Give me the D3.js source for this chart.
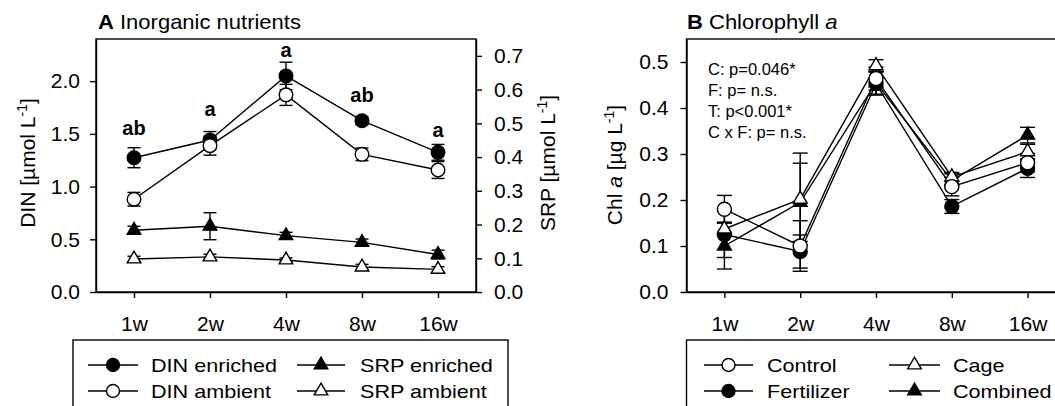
<!DOCTYPE html>
<html>
<head>
<meta charset="utf-8">
<script src="https://cdn.jsdelivr.net/npm/d3@7"></script>
<style>
body { margin: 0; background: #fff; }
svg text { font-family: "Liberation Sans", Arial, sans-serif; fill: #000; }
</style>
</head>
<body>
<svg width="1055" height="406"></svg>
<script>
let weeks = ["1w", "2w", "4w", "8w", "16w"];

// A: inorganic nutrients (DIN on left axis, SRP on right axis)
let dinEnriched = [1.274, 1.442, 2.05, 1.625, 1.325],
dinEnrichedErr = [0.095, 0.08, 0.13, 0.04, 0.075],
dinAmbient = [0.88, 1.388, 1.87, 1.306, 1.157],
dinAmbientErr = [0.065, 0.09, 0.1, 0.06, 0.08],
srpEnriched = [0.183, 0.195, 0.167, 0.147, 0.111],
srpEnrichedErr = [0.012, 0.04, 0.01, 0.01, 0.013],
srpAmbient = [0.098, 0.104, 0.095, 0.074, 0.067],
srpAmbientErr = [0.008, 0.008, 0.006, 0.008, 0.008];
let letters = ["ab", "a", "a", "ab", "a"],
letterPos = [1.49, 1.67, 2.23, 1.80, 1.475];   // DIN units
let dinTicks = [0, 0.5, 1.0, 1.5, 2.0],
srpTicks = [0, 0.1, 0.2, 0.3, 0.4, 0.5, 0.6, 0.7];

// B: chlorophyll a
let control = [0.18, 0.10, 0.464, 0.229, 0.281],
controlErr = [0.03, 0.055, 0.025, 0.02, 0.02],
fertilizer = [0.125, 0.088, 0.453, 0.186, 0.269],
fertilizerErr = [0.05, 0.036, 0.025, 0.015, 0.02],
cage = [0.137, 0.202, 0.492, 0.25, 0.305],
cageErr = [0.015, 0.1, 0.013, 0.01, 0.016],
combined = [0.10, 0.195, 0.455, 0.242, 0.341],
combinedErr = [0.05, 0.085, 0.025, 0.015, 0.017];
let chlTicks = [0, 0.1, 0.2, 0.3, 0.4, 0.5];
let stats = ["C: p=0.046*", "F: p= n.s.", "T: p<0.001*", "C x F: p= n.s."];

let plotTop = 39, plotBottom = 292, sw = 1.4, tickFont = 21;
let svg = d3.select("svg");

let xA = d3.scalePoint().domain(weeks).range([96, 476]).padding(0.5);
let yDIN = d3.scaleLinear().domain([0, 2.4]).range([plotBottom, plotTop]);
let ySRP = d3.scaleLinear().domain([0, 0.75]).range([plotBottom, plotTop]);
let xB = d3.scalePoint().domain(weeks).range([686.5, 1065.5]).padding(0.5);
let yChl = d3.scaleLinear().domain([0, 0.55]).range([plotBottom, plotTop]);

function styleAxis(g, size) {
  g.attr("font-size", size).attr("font-family", '"Liberation Sans", Arial, sans-serif');
  g.selectAll("line, path").attr("stroke", "#000").attr("stroke-width", sw);
  g.selectAll("text").attr("fill", "#000");
}

function sym(type, filled, size) {
  let t = type == "circle" ? d3.symbolCircle : d3.symbolTriangle;
  return { d: d3.symbol().type(t).size(size)(), fill: filled ? "#000" : "#fff" };
}

function lineOf(g, x, y, vals) {
  g.append("path")
    .datum(vals)
    .attr("fill", "none")
    .attr("stroke", "#000")
    .attr("stroke-width", sw)
    .attr("d", d3.line().x((d, i) => x(weeks[i])).y(d => y(d)));
}

function errOf(g, x, y, vals, errs, cap) {
  let e = g.append("g").attr("stroke", "#000").attr("stroke-width", sw);
  vals.forEach((v, i) => {
    let cx = x(weeks[i]);
    e.append("line").attr("x1", cx).attr("x2", cx).attr("y1", y(v - errs[i])).attr("y2", y(v + errs[i]));
    [v - errs[i], v + errs[i]].forEach(w => {
      e.append("line").attr("x1", cx - cap).attr("x2", cx + cap).attr("y1", y(w)).attr("y2", y(w));
    });
  });
}

function markOf(g, x, y, vals, s) {
  g.selectAll(null)
    .data(vals)
    .enter()
    .append("path")
    .attr("d", s.d)
    .attr("fill", s.fill)
    .attr("stroke", "#000")
    .attr("stroke-width", sw)
    .attr("transform", (d, i) => `translate(${x(weeks[i])},${y(d)})`);
}

function stext(g, x, y, str, size, sx) {
  return g.append("text")
    .attr("transform", `translate(${x},${y}) scale(${sx},1)`)
    .style("font-size", size + "px")
    .text(str);
}

// ---------- panel A ----------
let gA = svg.append("g");
let title = gA.append("text").attr("transform", "translate(98,28.5) scale(1.1,1)").style("font-size", "20px");
title.append("tspan").style("font-weight", "bold").text("A");
title.append("tspan").text(" Inorganic nutrients");

gA.append("g").attr("transform", `translate(96,0)`)
  .call(d3.axisLeft(yDIN).tickValues(dinTicks).tickFormat(d3.format(".1f")).tickSize(6).tickPadding(10).tickSizeOuter(0))
  .call(g => styleAxis(g, tickFont));
gA.append("g").attr("transform", `translate(476,0)`)
  .call(d3.axisRight(ySRP).tickValues(srpTicks).tickFormat(d3.format(".1f")).tickSize(6).tickPadding(12).tickSizeOuter(0))
  .call(g => styleAxis(g, tickFont));
gA.append("g").attr("transform", `translate(0,${plotBottom})`)
  .call(d3.axisBottom(xA).tickSize(6).tickPadding(18).tickSizeOuter(0))
  .call(g => styleAxis(g, tickFont));
gA.append("rect").attr("x", 96).attr("y", plotTop).attr("width", 380).attr("height", plotBottom - plotTop)
  .attr("fill", "none").attr("stroke", "#000").attr("stroke-width", sw);

let dinLab = gA.append("text").attr("transform", "translate(35,163) rotate(-90)")
  .attr("text-anchor", "middle").style("font-size", "21px");
dinLab.append("tspan").text("DIN [µmol L");
dinLab.append("tspan").attr("dy", -8).style("font-size", "14px").text("-1");
dinLab.append("tspan").attr("dy", 8).text("]");

let srpLab = gA.append("text").attr("transform", "translate(555,163) rotate(-90)")
  .attr("text-anchor", "middle").style("font-size", "21px");
srpLab.append("tspan").text("SRP [µmol L");
srpLab.append("tspan").attr("dy", -8).style("font-size", "14px").text("-1");
srpLab.append("tspan").attr("dy", 8).text("]");

let seriesA = [[dinEnriched, dinEnrichedErr, yDIN], [dinAmbient, dinAmbientErr, yDIN],
 [srpEnriched, srpEnrichedErr, ySRP], [srpAmbient, srpAmbientErr, ySRP]];
seriesA.forEach(s => lineOf(gA, xA, s[2], s[0]));
seriesA.forEach(s => errOf(gA, xA, s[2], s[0], s[1], 6.5));
markOf(gA, xA, ySRP, srpAmbient, sym("tri", false, 80));
markOf(gA, xA, ySRP, srpEnriched, sym("tri", true, 80));
markOf(gA, xA, yDIN, dinEnriched, sym("circle", true, Math.PI * 6.8 * 6.8));
markOf(gA, xA, yDIN, dinAmbient, sym("circle", false, Math.PI * 6.8 * 6.8));

gA.selectAll(".sig")
  .data(letters)
  .enter()
  .append("text")
  .attr("class", "sig")
  .attr("x", (d, i) => xA(weeks[i]))
  .attr("y", (d, i) => yDIN(letterPos[i]))
  .attr("text-anchor", "middle")
  .style("font-size", "20px")
  .style("font-weight", "bold")
  .text(d => d);

// ---------- panel B ----------
let gB = svg.append("g");
let titleB = gB.append("text").attr("transform", "translate(687,28.5) scale(1.1,1)").style("font-size", "20px");
titleB.append("tspan").style("font-weight", "bold").text("B");
titleB.append("tspan").text(" Chlorophyll ");
titleB.append("tspan").style("font-style", "italic").text("a");

gB.append("g").attr("transform", `translate(686.5,0)`)
  .call(d3.axisLeft(yChl).tickValues(chlTicks).tickFormat(d3.format(".1f")).tickSize(6).tickPadding(12).tickSizeOuter(0))
  .call(g => styleAxis(g, tickFont));
gB.append("g").attr("transform", `translate(0,${plotBottom})`)
  .call(d3.axisBottom(xB).tickSize(6).tickPadding(18).tickSizeOuter(0))
  .call(g => styleAxis(g, tickFont));
gB.append("rect").attr("x", 686.5).attr("y", plotTop).attr("width", 379).attr("height", plotBottom - plotTop)
  .attr("fill", "none").attr("stroke", "#000").attr("stroke-width", sw);

let chlLab = gB.append("text").attr("transform", "translate(622,165) rotate(-90)")
  .attr("text-anchor", "middle").style("font-size", "21px");
chlLab.append("tspan").text("Chl ");
chlLab.append("tspan").style("font-style", "italic").text("a");
chlLab.append("tspan").text(" [µg L");
chlLab.append("tspan").attr("dy", -8).style("font-size", "14px").text("-1");
chlLab.append("tspan").attr("dy", 8).text("]");

gB.selectAll(".stat")
  .data(stats)
  .enter()
  .append("text")
  .attr("class", "stat")
  .attr("x", 708)
  .attr("y", (d, i) => 74.5 + i * 21.2)
  .style("font-size", "16.5px")
  .text(d => d);

let seriesB = [[fertilizer, fertilizerErr], [combined, combinedErr], [cage, cageErr], [control, controlErr]];
seriesB.forEach(s => lineOf(gB, xB, yChl, s[0]));
seriesB.forEach(s => errOf(gB, xB, yChl, s[0], s[1], 7.5));
markOf(gB, xB, yChl, fertilizer, sym("circle", true, Math.PI * 7 * 7));
markOf(gB, xB, yChl, combined, sym("tri", true, 84));
markOf(gB, xB, yChl, cage, sym("tri", false, 84));
markOf(gB, xB, yChl, control, sym("circle", false, Math.PI * 7 * 7));

// ---------- legends ----------
function legend(g, box, cols, items) {
  g.append("rect").attr("x", box[0]).attr("y", box[1]).attr("width", box[2]).attr("height", 120)
    .attr("fill", "#fff").attr("stroke", "#000").attr("stroke-width", sw);
  items.forEach((it, k) => {
    let c = cols[k % 2], yy = 365 + Math.floor(k / 2) * 26;
    g.append("line").attr("x1", c[0]).attr("x2", c[1]).attr("y1", yy).attr("y2", yy)
      .attr("stroke", "#000").attr("stroke-width", sw);
    let s = sym(it.type, it.filled, it.type == "circle" ? Math.PI * 6.5 * 6.5 : 80);
    g.append("path").attr("d", s.d).attr("fill", s.fill).attr("stroke", "#000").attr("stroke-width", sw)
      .attr("transform", `translate(${(c[0] + c[1]) / 2},${yy})`);
    stext(g, c[2], yy + 6.5, it.label, 18, 1.2);
  });
}
legend(svg.append("g"), [73, 340, 435], [[88, 138, 151], [297, 345, 360]], [
  { label: "DIN enriched", type: "circle", filled: true },
  { label: "SRP enriched", type: "tri", filled: true },
  { label: "DIN ambient", type: "circle", filled: false },
  { label: "SRP ambient", type: "tri", filled: false }
]);
legend(svg.append("g"), [686.5, 340, 420], [[704, 753, 767], [889, 940, 953]], [
  { label: "Control", type: "circle", filled: false },
  { label: "Cage", type: "tri", filled: false },
  { label: "Fertilizer", type: "circle", filled: true },
  { label: "Combined", type: "tri", filled: true }
]);
</script>
</body>
</html>
